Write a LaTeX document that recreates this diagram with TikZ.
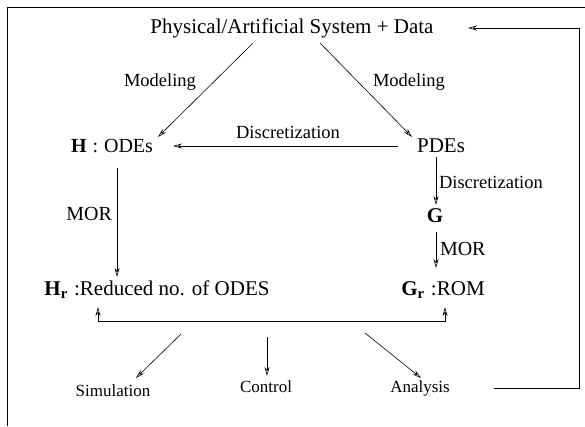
\documentclass[tikz,border=0pt]{standalone}
\usepackage{fontspec}
\setmainfont{Liberation Serif}
\usetikzlibrary{arrows.meta,calc}
\begin{document}
\begin{tikzpicture}[x=1pt,y=-1pt,
  every node/.style={inner sep=0pt, outer sep=0pt},
  wire/.style={line width=0.6pt},
  arr/.style={wire, -{Stealth[open,length=9pt,width=5pt,inset=3pt]}},
  big/.style={font=\fontsize{21}{25}\selectfont},
  mid/.style={font=\fontsize{20}{24}\selectfont},
  lbl/.style={font=\fontsize{18.5}{22}\selectfont},
  small/.style={font=\fontsize{17}{20}\selectfont}]
\useasboundingbox (0,0) rectangle (585,426);

% open frame (top and left edges)
\draw[line width=1pt] (7,426) -- (7,7) -- (585,7);

% main blocks
\node[big, anchor=base] (sys) at (292,33) {Physical/Artificial System + Data};
\node[mid, anchor=base] (H) at (112,152) {\textbf{H}\hspace{0.3em}:\hspace{0.3em}ODEs};
\node[big, anchor=base] (P) at (441,152) {PDEs};
\node[big, anchor=base] (G) at (435,222) {\textbf{G}};
\node[big, anchor=base] (Hr) at (157,295) {\textbf{H}\textsubscript{\bfseries r}\hspace{0.3em}:Reduced no. of ODES};
\node[big, anchor=base] (Gr) at (443,295) {\textbf{G}\textsubscript{\bfseries r}\hspace{0.3em}:ROM};

% uses of the reduced model
\node[small, anchor=base] (sim) at (113,396) {Simulation};
\node[small, anchor=base] (ctl) at (266,392) {Control};
\node[small, anchor=base] (ana) at (420,392) {Analysis};

% edge labels
\node[lbl, anchor=base] (m1) at (160,86) {Modeling};
\node[lbl, anchor=base] (m2) at (409,86) {Modeling};
\node[lbl, anchor=base] (d1) at (288,138) {Discretization};
\node[lbl, anchor=base west] (d2) at (439,188) {Discretization};
\node[mid, anchor=base east] (r1) at (112,220) {MOR};
\node[mid, anchor=base west] (r2) at (440,255) {MOR};

% modeling
\draw[arr] ($(sys.base)+(-39,10)$) -- ($(H.base)+(46,-15)$);
\draw[arr] ($(sys.base)+(28,10)$) -- ($(P.base)+(-29,-15)$);
% discretization
\draw[arr] ($(P.base)+(-43,-6)$) -- ($(H.base)+(61,-6)$);
\draw[arr] ($(P.base)+(-5,5)$) -- ($(G.base)+(1,-17)$);
% model order reduction
\draw[arr] ($(H.base)+(5,16)$) -- ($(Hr.base)+(-40,-18)$);
\draw[arr] ($(G.base)+(1,10)$) -- ($(Gr.base)+(-7,-27)$);

% bracket joining both reduced models
\draw[wire, {Stealth[open,length=9pt,width=5pt,inset=3pt]}-{Stealth[open,length=9pt,width=5pt,inset=3pt]}]
  ($(Hr.base)+(-59,12)$) |- ($(Gr.base)+(2,26)$) -- ($(Gr.base)+(2,12)$);
\coordinate (bus) at ($(Gr.base)!0.5!(Hr.base)+(0,26)$);

\draw[arr] ($(bus)+(-119,13)$) -- ($(sim.base)+(23,-18)$);
\draw[arr] ($(bus)+(-33,16)$) -- ($(ctl.base)+(1,-16)$);
\draw[arr] ($(bus)+(65,12)$) -- ($(ana.base)+(1,-14)$);

% feedback to the system
\draw[arr] ($(ana.base)+(74,-4)$) -- ++(85,0) |- ($(sys.base)+(176,-5)$);
\end{tikzpicture}
\end{document}
